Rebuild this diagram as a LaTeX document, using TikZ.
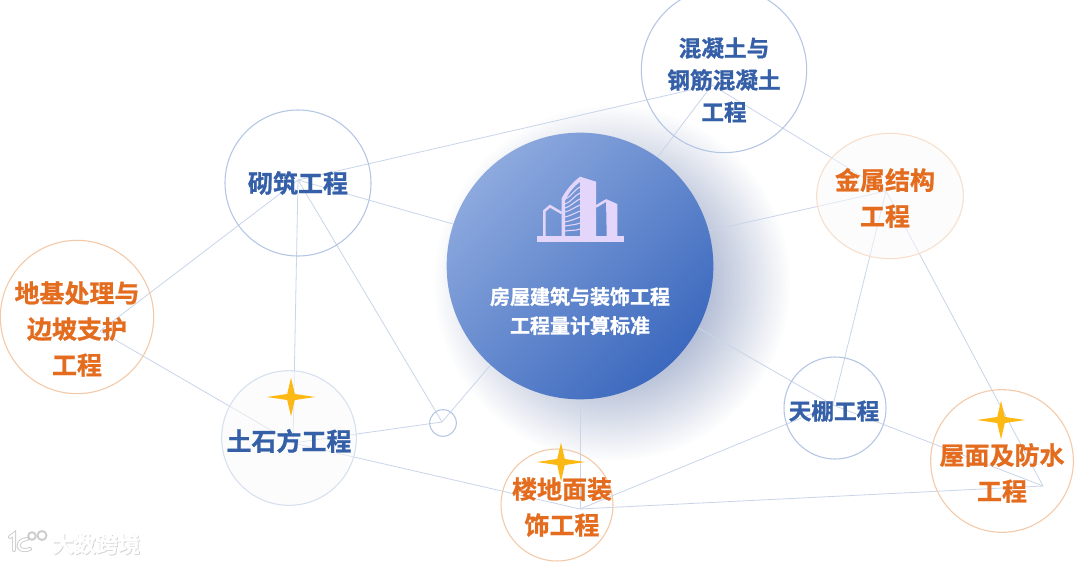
\documentclass[tikz,border=0pt]{standalone}
\usepackage{fontspec}
\setmainfont{Noto Sans CJK SC}[BoldFont=Noto Sans CJK SC Bold,BoldFeatures={FakeBold=0.9}]
\usetikzlibrary{shapes.geometric,shadings,fadings}
\definecolor{bluetxt}{HTML}{3560A8}
\definecolor{orangetxt}{HTML}{E46C1F}
\definecolor{bluering}{HTML}{B4C6E4}
\definecolor{orangering}{HTML}{F3C9A8}
\definecolor{linkline}{HTML}{C9D5EA}
\definecolor{towerfill}{HTML}{E4D6FB}
\definecolor{sparkfill}{HTML}{FDB913}
\definecolor{hublight}{HTML}{8DA9DE}
\definecolor{hubdark}{HTML}{3C69BE}
\definecolor{hazefill}{HTML}{5F75A8}
\tikzfading[name=haze,inner color=transparent!0,outer color=transparent!100]
\begin{document}
\begin{tikzpicture}[x=0.75pt,y=-0.75pt,
  lbl/.style={align=center,font=\fontsize{18.75}{27}\selectfont\bfseries,inner sep=0pt},
  smalllbl/.style={lbl,font=\fontsize{17}{24}\selectfont\bfseries},
  bluenode/.style={circle,draw=bluering,line width=0.8pt,inner sep=0pt},
  orangenode/.style={circle,draw=orangering,line width=0.8pt,inner sep=0pt},
  link/.style={draw=linkline,line width=0.6pt},
  spark/.style={star,star points=4,star point ratio=4.5,fill=sparkfill,inner sep=0pt,minimum size=29pt,xscale=1.25,transform shape}]
\useasboundingbox (0,0) rectangle (1080,563);
\fill[white] (0,0) rectangle (1080,563);
% haze behind the hub
\fill[hazefill,path fading=haze] (612,283) circle (178);
% anchor points first, the links go below the rings
\coordinate (hubc) at (580,260);
\coordinate (concretec) at (712,85);
\coordinate (masonryc) at (298,180);
\coordinate (metalc) at (886,191);
\coordinate (groundc) at (100,331);
\coordinate (earthc) at (293,443);
\coordinate (smallc) at (442,422);
\coordinate (floorc) at (580,509);
\coordinate (ceilingc) at (833,405);
\coordinate (roofend) at (1043,486);
\foreach \a/\b in {masonryc/concretec,masonryc/hubc,masonryc/groundc,masonryc/earthc,masonryc/smallc,%
  hubc/smallc,hubc/floorc,hubc/concretec,hubc/metalc,hubc/ceilingc,concretec/metalc,metalc/ceilingc,%
  metalc/roofend,ceilingc/floorc,ceilingc/roofend,floorc/roofend,earthc/smallc,earthc/floorc,groundc/earthc} {
  \draw[link] (\a) -- (\b);
}
% rings
\node[bluenode,minimum size=124pt] (concrete) at (724,70) {};
\node[bluenode,minimum size=109.5pt] (masonry) at (298,183) {};
\node[ellipse,draw=orangering!60,fill=gray!4,fill opacity=0.5,line width=0.8pt,inner sep=0pt,minimum width=110pt,minimum height=94pt] (metal) at (890,196) {};
\node[orangenode,minimum size=115pt] (ground) at (77,317) {};
\node[bluenode,minimum size=101pt,draw=bluering!55,fill=gray!4,fill opacity=0.5] (earth) at (289,438) {};
\node[bluenode,minimum size=20pt] (small) at (443,423) {};
\node[orangenode,minimum size=84pt] (floor) at (557,505) {};
\node[bluenode,minimum size=76.5pt] (ceiling) at (835,408) {};
\node[orangenode,minimum size=107pt] (roof) at (1002,461) {};
% hub
\node[circle,minimum size=200pt,inner sep=0pt,shading=axis,top color=hublight,bottom color=hubdark,shading angle=45] (hub) at (580,266) {};
% labels
\node[smalllbl,text=bluetxt] (concretetxt) at (724,80) {混凝土与\\钢筋混凝土\\工程};
\node[lbl,text=bluetxt] (masonrytxt) at (298,183) {砌筑工程};
\node[lbl,text=orangetxt] (metaltxt) at (885,198) {金属结构\\工程};
\node[lbl,text=orangetxt] (groundtxt) at (77,329) {地基处理与\\边坡支护\\工程};
\node[lbl,text=bluetxt] (earthtxt) at (289,441) {土石方工程};
\node[lbl,text=orangetxt] (floortxt) at (562,507) {楼地面装\\饰工程};
\node[smalllbl,text=bluetxt] (ceilingtxt) at (834,411) {天棚工程};
\node[lbl,text=orangetxt] (rooftxt) at (1002,473) {屋面及防水\\工程};
\node[align=center,text=white,font=\fontsize{15}{21.7}\selectfont\bfseries,inner sep=0pt] (hubtxt) at (580,311) {房屋建筑与装饰工程\\工程量计算标准};
% sparks
\node[spark] (spark1) at (291,397) {};
\node[spark] (spark2) at (561,462) {};
\node[spark] (spark3) at (1001,420) {};
% building icon
\fill[towerfill] (537,236) rectangle (624,242);
\draw[towerfill,line width=1.9pt,line join=miter] (544.3,236) -- (544.3,211) -- (550,206.2) -- (561.7,213);
\fill[towerfill] (580,176.7) -- (596,181.7) -- (596,236) -- (580,236) -- cycle;
\fill[towerfill] (561.7,198.3) .. controls (566,190) and (573,182) .. (580,176.7) -- (580,182) .. controls (574,186) and (568,194) .. (565,201) -- (565,236) -- (561.7,236) -- cycle;
\foreach \y/\d in {187/12,193/11,199/9,205/7,211/6,217/5,223/3,229/2} {
  \draw[towerfill,line width=0.8pt] (565,\y+\d) .. controls (570,\y+\d-1) and (575,\y+2) .. (580,\y);
}
\draw[towerfill,line width=1.9pt,line join=miter] (596,206.5) -- (606,200.5);
\fill[towerfill] (606,199) -- (617.3,204) -- (617.3,236) -- (606.7,236) -- cycle;
% watermark
\node[text=gray!35,font=\fontsize{16.5}{16.5}\selectfont\bfseries,inner sep=0pt] (markshadow) at (96.8,544.8) {大数跨境};
\node[text=white,font=\fontsize{16.5}{16.5}\selectfont\bfseries,inner sep=0pt] (marktxt) at (96,544) {大数跨境};
\draw[gray!40,line width=3pt,line cap=round] (10,537) -- (14,534) -- (14,550);
\draw[gray!40,line width=3pt,line cap=round] (27,539) .. controls (15,540) and (16,554) .. (30,549);
\draw[white,line width=1.6pt,line cap=round] (10,537) -- (14,534) -- (14,550);
\draw[white,line width=1.6pt,line cap=round] (27,539) .. controls (15,540) and (16,554) .. (30,549);
\draw[gray!40,line width=1.4pt] (32,536) circle (3.8);
\draw[gray!40,line width=1.4pt] (42,535.5) circle (4.5);
\end{tikzpicture}
\end{document}
